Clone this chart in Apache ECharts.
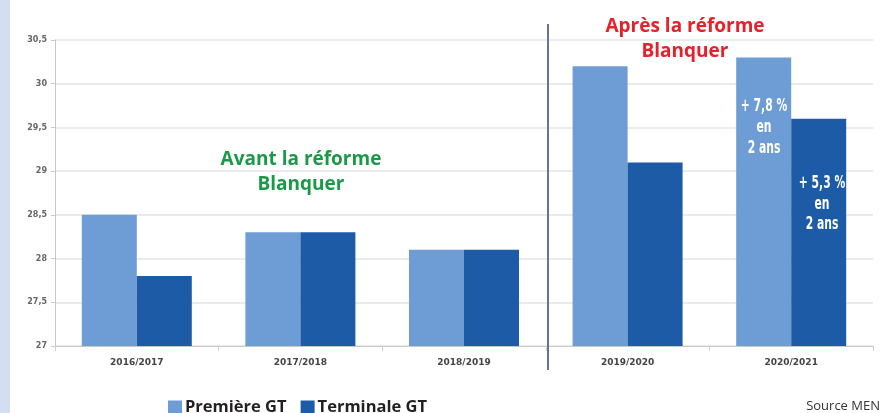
<!DOCTYPE html>
<html><head><meta charset="utf-8">
<script src="https://cdn.jsdelivr.net/npm/echarts@6/dist/echarts.min.js"></script>
<style>html,body{margin:0;padding:0;background:#fff}#c{width:886px;height:413px}</style>
</head><body><div id="c"></div>
<script>
const categories = ['2016/2017','2017/2018','2018/2019','2019/2020','2020/2021'];
const premiereGT = [28.5, 28.3, 28.1, 30.2, 30.3];
const terminaleGT = [27.8, 28.3, 28.1, 29.1, 29.6];
const seriesNames = ['Première GT','Terminale GT'];
const yMin = 27, yMax = 30.5, yStep = 0.5;

const chart = echarts.init(document.getElementById('c'), null, {renderer:'canvas'});
function whiteText(x, y, t){
  return {type:'text', z:100, x:x, y:y, scaleX:0.6, style:{text:t, fill:'#fff', font:"bold 18px 'DejaVu Sans'", textAlign:'center', textVerticalAlign:'middle', shadowColor:'rgba(0,0,0,0.7)', shadowBlur:3, shadowOffsetX:1, shadowOffsetY:1}};
}
function headText(x, y, t, c){
  return {type:'text', z:100, x:x, y:y, style:{text:t, fill:c, font:"bold 19px 'Open Sans'", textAlign:'center', textVerticalAlign:'middle'}};
}
chart.setOption({
  animation:false,
  backgroundColor:'#fff',
  grid:{left:55, right:13, top:40, bottom:67},
  legend:{
    data:seriesNames, left:163, top:394, itemWidth:14, itemHeight:14, itemGap:14,
    icon:'rect',
    textStyle:{fontFamily:'Open Sans', fontWeight:'bold', fontSize:16.5, color:'#231f20', padding:[0,0,0,-2]}
  },
  xAxis:{
    type:'category', data:categories,
    axisLine:{lineStyle:{color:'#c8c8c8'}},
    axisTick:{show:true, alignWithLabel:false, lineStyle:{color:'#d0d0d0'}},
    axisLabel:{fontFamily:'DejaVu Sans', fontWeight:'bold', fontSize:9, color:'#444', margin:12}
  },
  yAxis:{
    type:'value', min:yMin, max:yMax, interval:yStep,
    axisLine:{show:true, lineStyle:{color:'#c8c8c8'}},
    axisTick:{show:true, length:4, lineStyle:{color:'#c8c8c8'}},
    axisLabel:{fontFamily:'DejaVu Sans', fontWeight:'bold', fontSize:8, color:'#666', margin:8,
      formatter:v=>String(v).replace('.',',')},
    splitLine:{lineStyle:{color:'#e4e4e4', width:1.5}}
  },
  series:[
    {name:seriesNames[0], type:'bar', data:premiereGT, barWidth:55, barGap:'0%', itemStyle:{color:'#6d9dd4'}},
    {name:seriesNames[1], type:'bar', data:terminaleGT, barWidth:55, itemStyle:{color:'#1e5ba7'}}
  ],
  graphic:[
    {type:'rect', z:100, shape:{x:0,y:0,width:10,height:413}, style:{fill:'#d5def0'}},
    {type:'line', z:100, shape:{x1:548,y1:24,x2:548,y2:370}, style:{stroke:'#6b7191', lineWidth:2}},
    headText(301,160,'Avant la réforme','#1a9a48'), headText(301,185,'Blanquer','#1a9a48'),
    headText(685,27,'Après la réforme','#e8202a'), headText(685,52,'Blanquer','#e8202a'),
    whiteText(764,106,'+ 7,8 %'), whiteText(764,127,'en'), whiteText(764,148,'2 ans'),
    whiteText(822,183,'+ 5,3 %'), whiteText(822,204,'en'), whiteText(822,224,'2 ans'),
    {type:'text', z:100, x:880, y:406, style:{text:'Source MEN', fill:'#333', font:"13px 'Open Sans'", textAlign:'right', textVerticalAlign:'middle'}}
  ]
});
</script></body></html>
